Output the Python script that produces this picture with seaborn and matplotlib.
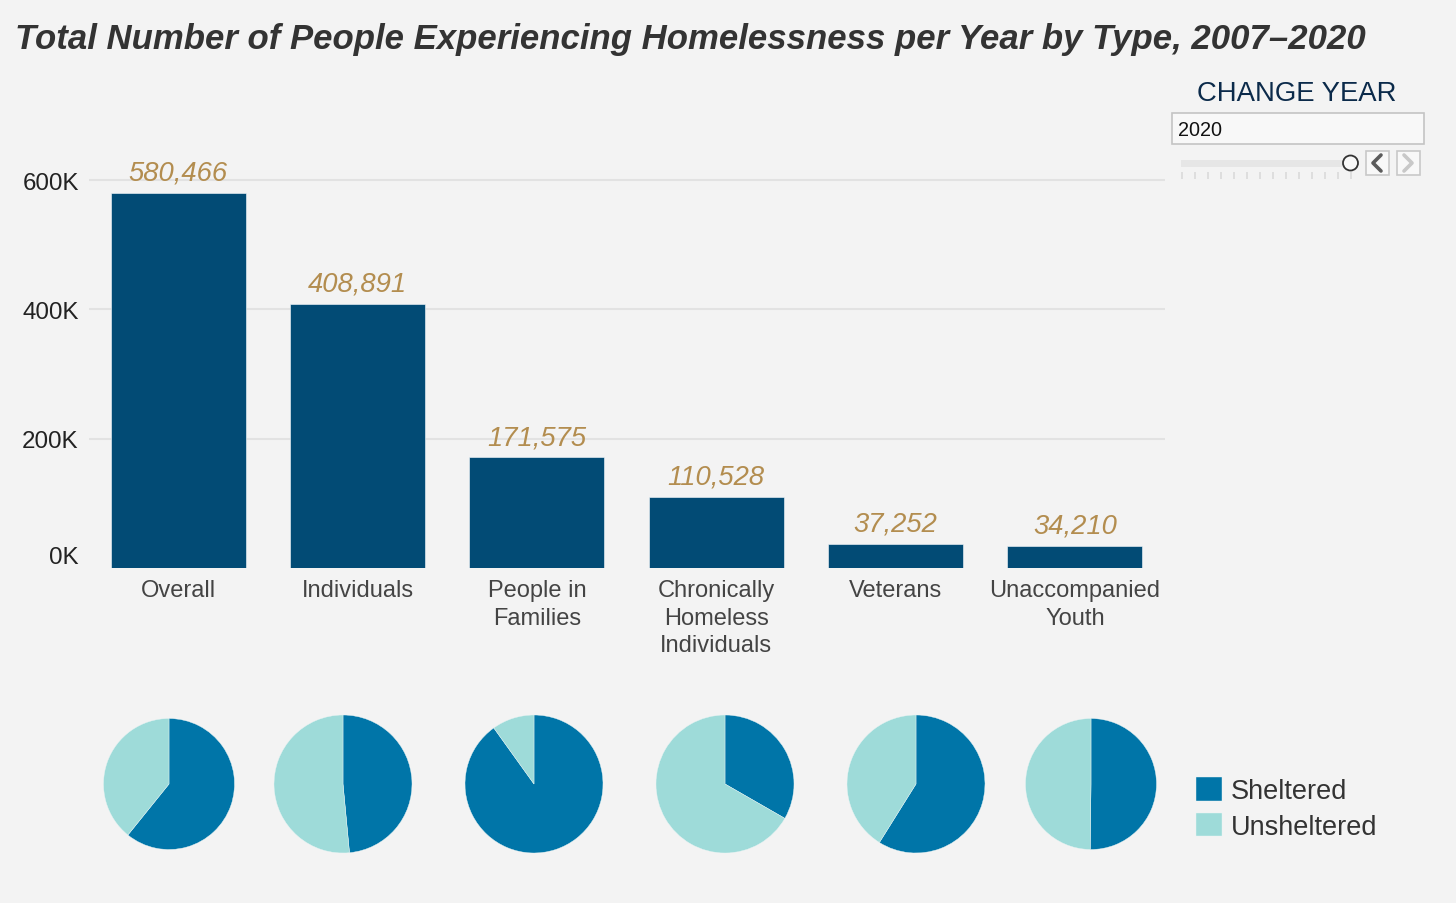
"""Homelessness by type: bars on top, sheltered split pies below"""
import matplotlib
matplotlib.use("Agg")
import matplotlib.pyplot as plt
from matplotlib.patches import Circle, Rectangle
import pandas as pd
import seaborn as sns

TITLE = "Total Number of People Experiencing Homelessness per Year by Type, 2007\u20132020"
categories = ["Overall", "Individuals", "People in\nFamilies",
              "Chronically\nHomeless\nIndividuals", "Veterans", "Unaccompanied\nYouth"]
totals = [580466, 408891, 171575, 110528, 37252, 34210]
# share sheltered in percent
sheltered = [60.8, 48.5, 90.1, 33.3, 58.9, 50.2]
unsheltered = [39.2, 51.5, 9.9, 66.7, 41.1, 49.8]
yticks = [0, 200000, 400000, 600000]
ytick_labels = ["0K", "200K", "400K", "600K"]
years = list(range(2007, 2021))

BG = "#f3f3f3"
BAR = "#024b75"
DARK = "#0075a8"
LIGHT = "#9edbd9"
GOLD = "#b38d4f"

W, H = 1456, 904


def px_axes(left, top, right, bottom):
    """add axes from pixel box, origin top left"""
    return fig.add_axes([left / W, 1 - bottom / H, (right - left) / W, (bottom - top) / H])


sns.set_theme(style="white")
plt.rcParams["font.family"] = ["Liberation Sans", "DejaVu Sans"]

fig = plt.figure(figsize=(W / 100, H / 100), dpi=100, facecolor=BG)
fig.text(15 / W, 1 - 40 / H, TITLE, fontsize=25.0, fontweight="bold", fontstyle="italic",
         color="#333333", ha="left", va="center")

# bars
ax = px_axes(88.5, 151, 1164.5, 569)
ax.set_facecolor(BG)
df = pd.DataFrame({"category": categories, "total": totals})
sns.barplot(data=df, x="category", y="total", color=BAR, saturation=1, width=0.753,
            edgecolor="#f7fbfd", linewidth=0.4, ax=ax)
ax.bar_label(ax.containers[0], fmt="{:,.0f}", padding=5, fontsize=19.7, fontstyle="italic", color=GOLD)
ax.set_xlim(-0.5, 5.5)
ax.set_ylim(0, 646500)
ax.set_xlabel("")
ax.set_ylabel("")
ax.set_yticks(yticks, ytick_labels)
ax.grid(axis="y", color="#e2e2e2", linewidth=1.5)
ax.set_axisbelow(True)
ax.yaxis.get_gridlines()[0].set_visible(False)
ax.yaxis.get_ticklabels()[0].set_verticalalignment("bottom")
ax.tick_params(axis="y", length=0, pad=7, labelsize=17.4, labelcolor="#222222")
ax.tick_params(axis="x", length=0, pad=8, labelsize=17, labelcolor="#444444")
for label in ax.get_xticklabels():
    label.set_linespacing(1.32)
sns.despine(ax=ax, left=True, bottom=True)

# pies
pie_centers = [(169, 785, 65.5), (343, 785, 69), (534, 785, 69),
               (725, 785, 69), (916, 785, 69), (1091, 785, 65.5)]
for (cx, cy, r), s, u in zip(pie_centers, sheltered, unsheltered):
    pie_ax = px_axes(cx - r, cy - r, cx + r, cy + r)
    wedges, _ = pie_ax.pie([s, u], colors=[DARK, LIGHT], startangle=90, counterclock=False, radius=1,
                           wedgeprops={"linewidth": 0.3, "edgecolor": "#e8f4f4"})
    pie_ax.set_xlim(-1, 1)
    pie_ax.set_ylim(-1, 1)

# legend
fig.legend(handles=wedges, labels=["Sheltered", "Unsheltered"], loc="upper left",
           bbox_to_anchor=(1191 / W, 1 - 773 / H), frameon=False, fontsize=19.5,
           handlelength=0.95, handleheight=0.95, handletextpad=0.32, labelspacing=0.32,
           borderpad=0.2, borderaxespad=0, labelcolor="#333333")

# year slider widget
fig.text(1297 / W, 1 - 94 / H, "CHANGE YEAR", fontsize=19.8, color="#0b2a4a", ha="center", va="center")
wid = px_axes(1165, 106, 1430, 186)
wid.set_xlim(1165, 1430)
wid.set_ylim(185, 105)
wid.axis("off")
wid.add_patch(Rectangle((1171.5, 113), 252, 31, facecolor="#f8f8f8", edgecolor="#c4c4c4", linewidth=1.2))
wid.text(1178, 129.5, str(years[-1]), fontsize=14.3, color="#111111", va="center", ha="left")
wid.add_patch(Rectangle((1181, 159.5), 168, 7, facecolor="#e6e6e6", edgecolor="none"))
slider_x = [1182 + 13 * i for i in range(len(years))]
wid.vlines(slider_x, 172, 179, color="#dcdcdc", linewidth=1.3)
wid.add_patch(Circle((1350.5, 163), 7.5, facecolor="#f8f8f8", edgecolor="#333333", linewidth=1.3, zorder=3))
wid.add_patch(Rectangle((1365.5, 150.5), 23, 24, facecolor="#f8f8f8", edgecolor="#c8c8c8", linewidth=1.2))
wid.add_patch(Rectangle((1396.5, 150.5), 23, 24, facecolor="#f8f8f8", edgecolor="#c8c8c8", linewidth=1.2))
wid.plot([1381, 1373, 1381], [155, 163, 171], color="#5c5c5c", linewidth=2.6)
wid.plot([1404, 1412, 1404], [155, 163, 171], color="#c8c8c8", linewidth=2.6)

fig.savefig("out.png", dpi=100, facecolor=BG)
